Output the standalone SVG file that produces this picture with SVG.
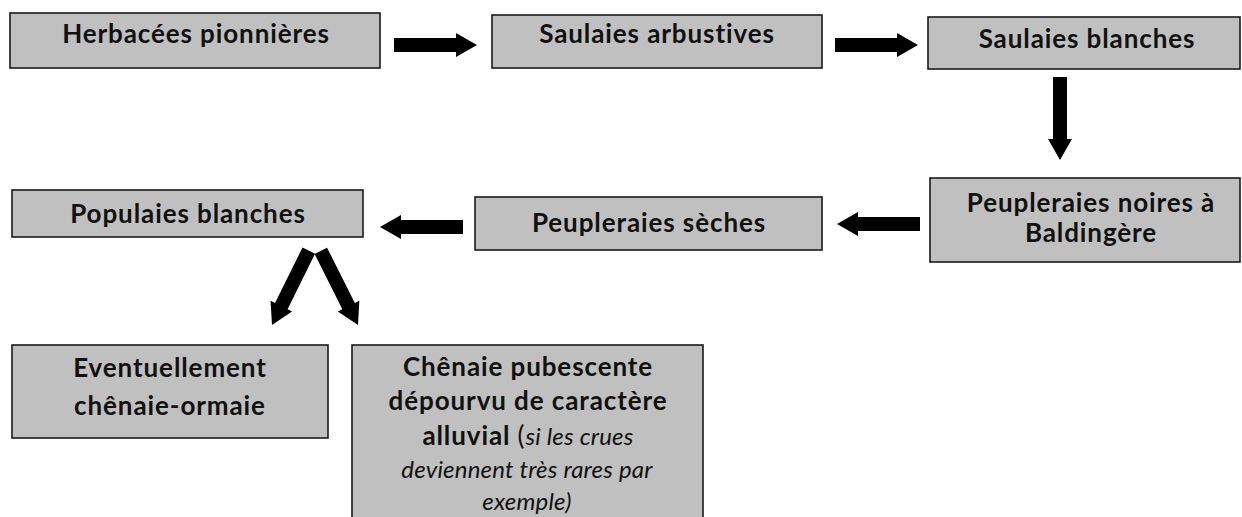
<svg xmlns="http://www.w3.org/2000/svg" xmlns:xlink="http://www.w3.org/1999/xlink" width="1242" height="517" viewBox="0 0 1242 517">
<style>
.box{fill:#c0c0c0;stroke:#1a1a1a;stroke-width:1.6}
.t{font-family:Lato,"Open Sans","Liberation Sans",sans-serif;font-weight:bold;font-size:26px;letter-spacing:0.9px;fill:#111;text-anchor:middle}
.i{font-style:italic;font-weight:normal;font-size:24px;letter-spacing:0.2px}
.r{font-weight:normal}
.arr{fill:#000}
</style>
<defs>
<polygon id="arr" points="-83,-7 -21,-7 -21,-12 0,0 -21,12 -21,7 -83,7"/>
</defs>
<rect width="1242" height="517" fill="#fff"/>
<g id="n1"><rect class="box" x="10" y="13" width="370" height="55"/><text class="t" x="196" y="43">Herbacées pionnières</text></g>
<g id="n2"><rect class="box" x="492" y="15" width="330" height="53"/><text class="t" x="657" y="43">Saulaies arbustives</text></g>
<g id="n3"><rect class="box" x="928" y="17" width="312" height="52"/><text class="t" x="1087" y="48">Saulaies blanches</text></g>
<g id="n4"><rect class="box" x="930" y="178" width="310" height="84"/><text class="t" x="1091" y="212">Peupleraies noires à</text><text class="t" x="1091" y="242">Baldingère</text></g>
<g id="n5"><rect class="box" x="12" y="190" width="351" height="47"/><text class="t" x="188" y="223">Populaies blanches</text></g>
<g id="n6"><rect class="box" x="475" y="197" width="347" height="53"/><text class="t" x="649" y="232">Peupleraies sèches</text></g>
<g id="n7"><rect class="box" x="12" y="345" width="316" height="93"/><text class="t" x="170" y="377">Eventuellement</text><text class="t" x="170" y="415">chênaie-ormaie</text></g>
<g id="n8"><rect class="box" x="352" y="345" width="351" height="200"/>
<text class="t" x="528" y="376">Chênaie pubescente</text>
<text class="t" x="528" y="410">dépourvu de caractère</text>
<text class="t" x="528" y="445">alluvial <tspan class="r">(</tspan><tspan class="i">si les crues</tspan></text>
<text class="t i" x="527" y="478">deviennent très rares par</text>
<text class="t i" x="527" y="510">exemple)</text>
</g>
<g id="connectors" class="arr">
<use xlink:href="#arr" transform="translate(477,45)"/>
<use xlink:href="#arr" transform="translate(918,45)"/>
<use xlink:href="#arr" transform="translate(1060,160) rotate(90)"/>
<use xlink:href="#arr" transform="translate(380,227) rotate(180)"/>
<use xlink:href="#arr" transform="translate(837,224) rotate(180)"/>
<use xlink:href="#arr" transform="translate(272,325) rotate(116.3)"/>
<use xlink:href="#arr" transform="translate(358,325) rotate(63.4)"/>
</g>
</svg>
